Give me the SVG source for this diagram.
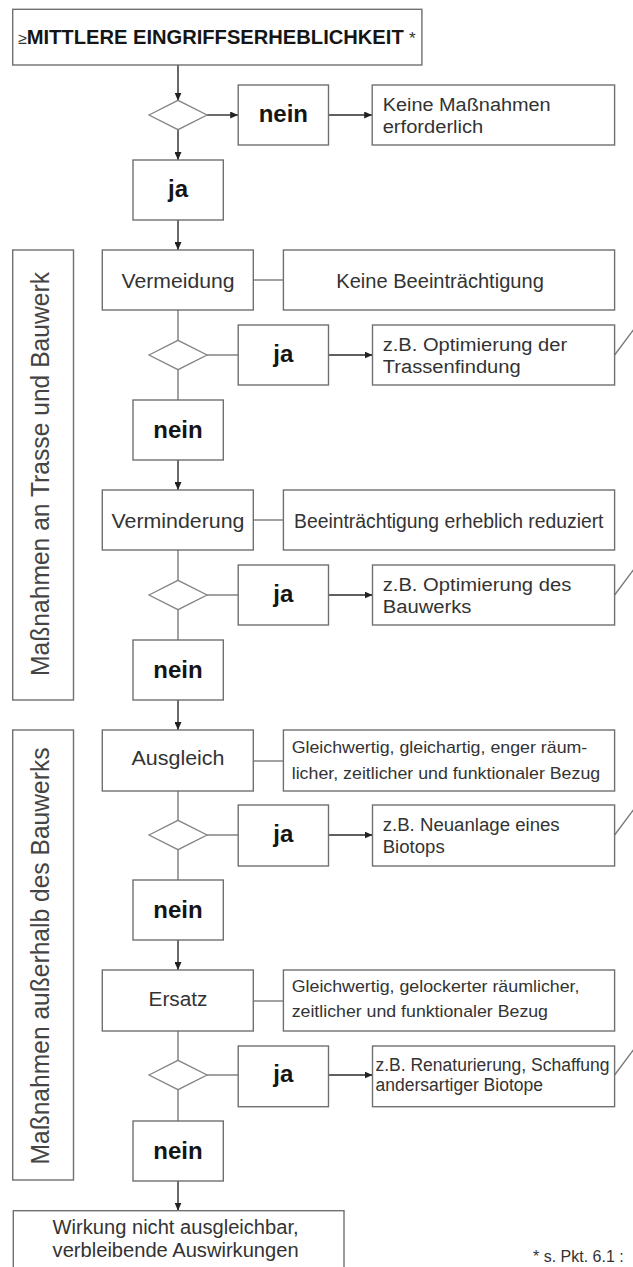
<svg xmlns="http://www.w3.org/2000/svg" width="633" height="1267" viewBox="0 0 633 1267">
<style>
.box{fill:#fff;stroke:#707070;stroke-width:1.4}
.dia{fill:#fff;stroke:#858585;stroke-width:1.3}
.ln{stroke:#7a7a7a;stroke-width:1.4;fill:none}
.ar{stroke:#2a2a2a;stroke-width:1.4;fill:none;marker-end:url(#ah)}
.t{font-family:"Liberation Sans",Arial,sans-serif;fill:#333}
.b{font-family:"Liberation Sans",Arial,sans-serif;font-weight:bold;fill:#151515}
.m{font-size:20px;text-anchor:middle}
.d{font-size:19.5px}
.s{font-size:17px}
.z{font-size:18px}
.yn{font-size:24px;text-anchor:middle}
.side{font-size:25px;text-anchor:middle;fill:#444}
</style>
<defs>
<marker id="ah" markerWidth="8" markerHeight="7" refX="8" refY="3.5" orient="auto" markerUnits="userSpaceOnUse"><path d="M0,0 L8,3.5 L0,7 z" fill="#222"/></marker>
</defs>
<rect width="633" height="1267" fill="#fff"/>

<g id="connectors">
<line class="ar" x1="178" y1="65" x2="178" y2="100.7"/>
<line class="ar" x1="207" y1="115" x2="238.2" y2="115"/>
<line class="ar" x1="328.5" y1="115" x2="372.2" y2="115"/>
<line class="ar" x1="178" y1="129.3" x2="178" y2="160"/>
<line class="ar" x1="178" y1="220" x2="178" y2="250"/>

<line class="ln" x1="253.3" y1="280" x2="283.4" y2="280"/>
<line class="ln" x1="178" y1="310" x2="178" y2="340.3"/>
<line class="ln" x1="207" y1="355" x2="238.2" y2="355"/>
<line class="ar" x1="328.5" y1="355" x2="372.5" y2="355"/>
<line class="ln" x1="614.6" y1="355" x2="640" y2="321"/>
<line class="ln" x1="178" y1="369.7" x2="178" y2="400"/>
<line class="ar" x1="178" y1="460" x2="178" y2="490"/>

<line class="ln" x1="253.3" y1="520" x2="283.4" y2="520"/>
<line class="ln" x1="178" y1="550" x2="178" y2="580.3"/>
<line class="ln" x1="207" y1="595" x2="238.2" y2="595"/>
<line class="ar" x1="328.5" y1="595" x2="372.5" y2="595"/>
<line class="ln" x1="614.6" y1="595" x2="640" y2="561"/>
<line class="ln" x1="178" y1="609.7" x2="178" y2="640"/>
<line class="ar" x1="178" y1="700" x2="178" y2="730"/>

<line class="ln" x1="253.3" y1="761" x2="283.4" y2="761"/>
<line class="ln" x1="178" y1="791" x2="178" y2="820.3"/>
<line class="ln" x1="207" y1="835" x2="238.2" y2="835"/>
<line class="ar" x1="328.5" y1="835" x2="372.5" y2="835"/>
<line class="ln" x1="614.6" y1="835" x2="640" y2="801"/>
<line class="ln" x1="178" y1="849.7" x2="178" y2="880"/>
<line class="ar" x1="178" y1="940" x2="178" y2="970"/>

<line class="ln" x1="253.3" y1="1001" x2="283.4" y2="1001"/>
<line class="ln" x1="178" y1="1031" x2="178" y2="1060.3"/>
<line class="ln" x1="207" y1="1075" x2="238.2" y2="1075"/>
<line class="ar" x1="328.5" y1="1075" x2="372.5" y2="1075"/>
<line class="ln" x1="614.6" y1="1075" x2="640" y2="1041"/>
<line class="ln" x1="178" y1="1089.7" x2="178" y2="1121"/>
<line class="ar" x1="178" y1="1181" x2="178" y2="1210.7"/>
</g>

<g id="start">
<rect class="box" x="12.7" y="9.3" width="409.2" height="55.7"/>
<text class="t" x="18.3" y="43.5" font-size="16" fill="#666">≥</text>
<text class="b" x="26.7" y="44.3" font-size="20.5" textLength="377" lengthAdjust="spacingAndGlyphs">MITTLERE EINGRIFFSERHEBLICHKEIT</text>
<text class="t" x="409" y="44.3" font-size="17">*</text>
</g>

<g id="d0"><polygon class="dia" points="149,115 178,100.3 207,115 178,129.7"/></g>
<g id="nein0"><rect class="box" x="238.2" y="85" width="90.3" height="60"/><text class="b yn" x="283.3" y="122">nein</text></g>
<g id="keine"><rect class="box" x="372.2" y="85" width="242.4" height="60"/>
<text class="t z" x="382.7" y="110.5" textLength="168" lengthAdjust="spacingAndGlyphs">Keine Maßnahmen</text>
<text class="t z" x="382.7" y="133.3" textLength="100.6" lengthAdjust="spacingAndGlyphs">erforderlich</text></g>
<g id="ja0"><rect class="box" x="133" y="160" width="90.3" height="60"/><text class="b yn" x="178" y="197">ja</text></g>

<g id="side1"><rect class="box" x="12.7" y="250" width="60.8" height="450"/>
<text class="t side" transform="translate(49.3,474) rotate(-90)" textLength="404" lengthAdjust="spacingAndGlyphs">Maßnahmen an Trasse und Bauwerk</text></g>
<g id="side2"><rect class="box" x="12.7" y="730" width="60.8" height="450"/>
<text class="t side" transform="translate(49.3,956) rotate(-90)" textLength="417" lengthAdjust="spacingAndGlyphs">Maßnahmen außerhalb des Bauwerks</text></g>

<g id="vermeidung"><rect class="box" x="102.3" y="250" width="151" height="60"/><text class="t m" x="178" y="287.7" textLength="113" lengthAdjust="spacingAndGlyphs">Vermeidung</text></g>
<g id="desc1"><rect class="box" x="283.4" y="250" width="331.2" height="60"/><text class="t d" x="336.3" y="287.7" textLength="207.5" lengthAdjust="spacingAndGlyphs">Keine Beeinträchtigung</text></g>
<g id="d1"><polygon class="dia" points="149,355 178,340.3 207,355 178,369.7"/></g>
<g id="ja1"><rect class="box" x="238.2" y="325" width="90.3" height="60"/><text class="b yn" x="283.3" y="362">ja</text></g>
<g id="zb1"><rect class="box" x="372.5" y="325" width="242.1" height="60"/>
<text class="t z" x="382.7" y="350.5" textLength="184.5" lengthAdjust="spacingAndGlyphs">z.B. Optimierung der</text>
<text class="t z" x="382.7" y="373" textLength="138" lengthAdjust="spacingAndGlyphs">Trassenfindung</text></g>
<g id="nein1"><rect class="box" x="133" y="400" width="90.3" height="60"/><text class="b yn" x="178" y="437.5">nein</text></g>

<g id="verminderung"><rect class="box" x="102.3" y="490" width="151" height="60"/><text class="t m" x="178" y="527.7" textLength="133" lengthAdjust="spacingAndGlyphs">Verminderung</text></g>
<g id="desc2"><rect class="box" x="283.4" y="490" width="331.2" height="60"/><text class="t d" x="294" y="527.7" textLength="309.5" lengthAdjust="spacingAndGlyphs">Beeinträchtigung erheblich reduziert</text></g>
<g id="d2"><polygon class="dia" points="149,595 178,580.3 207,595 178,609.7"/></g>
<g id="ja2"><rect class="box" x="238.2" y="565" width="90.3" height="60"/><text class="b yn" x="283.3" y="602">ja</text></g>
<g id="zb2"><rect class="box" x="372.5" y="565" width="242.1" height="60"/>
<text class="t z" x="382.7" y="590.5" textLength="188.6" lengthAdjust="spacingAndGlyphs">z.B. Optimierung des</text>
<text class="t z" x="382.7" y="613" textLength="88.8" lengthAdjust="spacingAndGlyphs">Bauwerks</text></g>
<g id="nein2"><rect class="box" x="133" y="640" width="90.3" height="60"/><text class="b yn" x="178" y="677.5">nein</text></g>

<g id="ausgleich"><rect class="box" x="102.3" y="730" width="151" height="61"/><text class="t m" x="178" y="765" textLength="93" lengthAdjust="spacingAndGlyphs">Ausgleich</text></g>
<g id="desc3"><rect class="box" x="283.4" y="730" width="331.2" height="61"/>
<text class="t s" x="291.7" y="752.5" textLength="295.6" lengthAdjust="spacingAndGlyphs">Gleichwertig, gleichartig, enger räum-</text>
<text class="t s" x="291.7" y="779" textLength="308.5" lengthAdjust="spacingAndGlyphs">licher, zeitlicher und funktionaler Bezug</text></g>
<g id="d3"><polygon class="dia" points="149,835 178,820.3 207,835 178,849.7"/></g>
<g id="ja3"><rect class="box" x="238.2" y="805" width="90.3" height="61"/><text class="b yn" x="283.3" y="842">ja</text></g>
<g id="zb3"><rect class="box" x="372.5" y="805" width="242.1" height="61"/>
<text class="t z" x="382.7" y="830.5" textLength="177" lengthAdjust="spacingAndGlyphs">z.B. Neuanlage eines</text>
<text class="t z" x="382.7" y="853" textLength="62" lengthAdjust="spacingAndGlyphs">Biotops</text></g>
<g id="nein3"><rect class="box" x="133" y="880" width="90.3" height="60"/><text class="b yn" x="178" y="917.5">nein</text></g>

<g id="ersatz"><rect class="box" x="102.3" y="970" width="151" height="61"/><text class="t m" x="178" y="1006" textLength="59" lengthAdjust="spacingAndGlyphs">Ersatz</text></g>
<g id="desc4"><rect class="box" x="283.4" y="970" width="331.2" height="61"/>
<text class="t s" x="291.7" y="991.7" textLength="287.8" lengthAdjust="spacingAndGlyphs">Gleichwertig, gelockerter räumlicher,</text>
<text class="t s" x="291.7" y="1016.7" textLength="256.3" lengthAdjust="spacingAndGlyphs">zeitlicher und funktionaler Bezug</text></g>
<g id="d4"><polygon class="dia" points="149,1075 178,1060.3 207,1075 178,1089.7"/></g>
<g id="ja4"><rect class="box" x="238.2" y="1046" width="90.3" height="60.7"/><text class="b yn" x="283.3" y="1082">ja</text></g>
<g id="zb4"><rect class="box" x="372.5" y="1046" width="242.1" height="60.7"/>
<text class="t z" x="375.5" y="1070.7" textLength="234" lengthAdjust="spacingAndGlyphs">z.B. Renaturierung, Schaffung</text>
<text class="t z" x="375.5" y="1090.7" textLength="167.5" lengthAdjust="spacingAndGlyphs">andersartiger Biotope</text></g>
<g id="nein4"><rect class="box" x="133" y="1121" width="90.3" height="60"/><text class="b yn" x="178" y="1158.5">nein</text></g>

<g id="wirkung"><rect class="box" x="13.3" y="1210.7" width="330.7" height="70"/>
<text class="t" font-size="20" text-anchor="middle" x="175.6" y="1234" textLength="246" lengthAdjust="spacingAndGlyphs">Wirkung nicht ausgleichbar,</text>
<text class="t" font-size="20" text-anchor="middle" x="175.6" y="1257.3" textLength="246" lengthAdjust="spacingAndGlyphs">verbleibende Auswirkungen</text></g>

<g id="footnote"><text class="t" x="533" y="1262" font-size="16" fill="#222">* s. Pkt. 6.1 :</text></g>
</svg>
